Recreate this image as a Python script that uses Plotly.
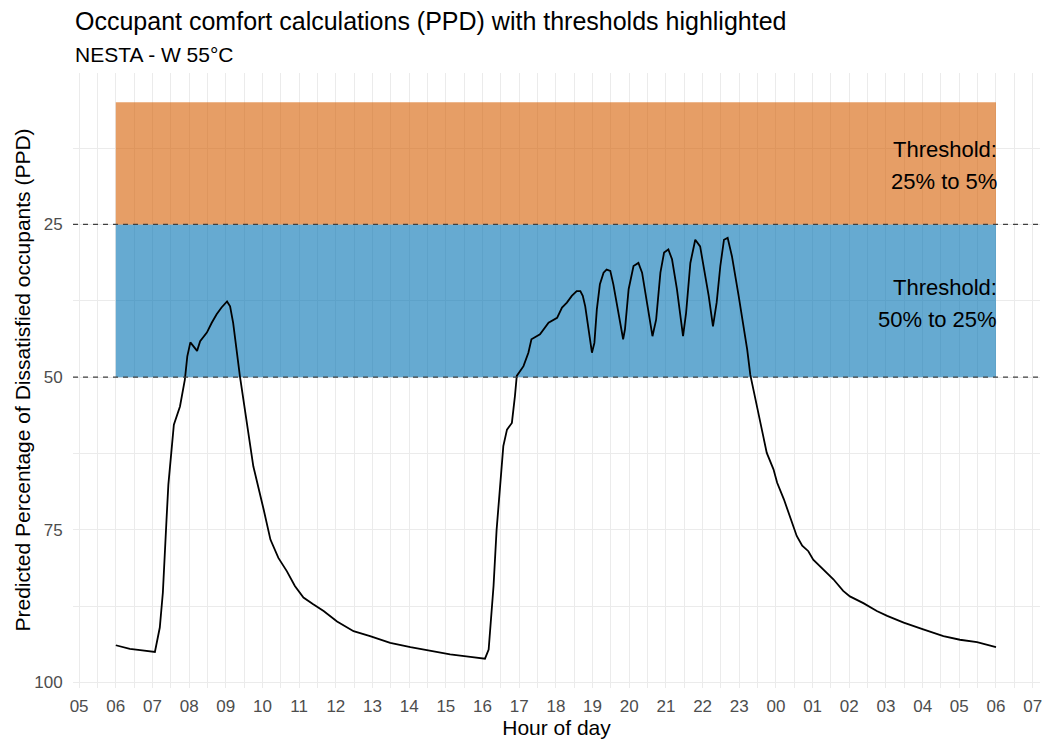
from datetime import datetime, timedelta

import plotly.graph_objects as go

# PPD readings (HH:MM from 06:00 to 06:00 next day)
times = [
    "06:00", "06:23", "06:40", "07:04", "07:12", "07:17", "07:23", "07:26",
    "07:35", "07:40", "07:45", "07:53", "07:57", "08:02", "08:13", "08:18",
    "08:29", "08:37", "08:45", "08:53", "09:02", "09:07", "09:12", "09:23",
    "09:34", "09:45", "10:02", "10:13", "10:26", "10:40", "10:53", "11:07",
    "11:23", "11:40", "12:02", "12:29", "12:56", "13:29", "14:02", "14:34",
    "15:07", "15:40", "16:04", "16:10", "16:15", "16:18", "16:23", "16:29",
    "16:34", "16:40", "16:48", "16:53", "16:56", "17:07", "17:15", "17:20",
    "17:34", "17:48", "18:02", "18:10", "18:18", "18:26", "18:34", "18:40",
    "18:44", "18:48", "18:53", "18:59", "19:03", "19:07", "19:12", "19:18",
    "19:23", "19:29", "19:34", "19:42", "19:50", "19:53", "19:59", "20:07",
    "20:15", "20:21", "20:29", "20:38", "20:44", "20:51", "20:57", "21:04",
    "21:10", "21:18", "21:28", "21:33", "21:40", "21:48", "21:56", "22:01",
    "22:10", "22:17", "22:23", "22:29", "22:35", "22:41", "22:48", "22:59",
    "23:13", "23:18", "23:34", "23:45", "23:56", "00:02", "00:13", "00:26",
    "00:34", "00:43", "00:53", "01:01", "01:18", "01:34", "01:50", "02:01",
    "02:23", "02:45", "03:02", "03:29", "04:01", "04:34", "05:01", "05:29",
    "06:00",
]
ppd = [
    93.9, 94.5, 94.7, 95.0, 91.0, 85.3, 73.3, 67.6,
    57.8, 56.3, 54.8, 50.4, 46.6, 44.3, 45.7, 44.1,
    42.7, 41.1, 39.7, 38.6, 37.6, 38.4, 41.1, 49.8,
    57.5, 64.6, 71.7, 76.6, 79.6, 81.8, 84.2, 86.1,
    87.2, 88.3, 90.0, 91.6, 92.4, 93.5, 94.2, 94.8,
    95.4, 95.8, 96.1, 94.6, 87.5, 84.2, 75.0, 67.9,
    61.3, 58.6, 57.5, 53.1, 49.8, 48.2, 46.0, 43.8,
    43.0, 41.1, 40.3, 38.6, 37.8, 36.7, 35.9, 35.9,
    36.7, 38.4, 41.7, 46.0, 44.4, 38.9, 34.8, 32.9,
    32.4, 32.6, 34.8, 39.2, 43.8, 42.2, 35.6, 31.8,
    31.3, 32.9, 37.8, 43.3, 40.6, 32.9, 29.6, 29.1,
    30.7, 35.6, 43.3, 39.5, 31.3, 27.5, 28.6, 31.3,
    36.7, 41.7, 37.8, 31.8, 27.5, 27.2, 30.2, 36.7,
    45.5, 49.6, 57.5, 62.4, 65.1, 67.3, 70.0, 73.8,
    76.0, 77.6, 78.5, 79.9, 81.5, 83.1, 85.0, 85.9,
    87.0, 88.3, 89.1, 90.2, 91.3, 92.4, 93.0, 93.4,
    94.2,
]

# threshold bands (lower PPD edge, upper PPD edge)
band_limits = [(25, 50), (5, 25)]
band_colors = ["rgba(0,114,178,0.6)", "rgba(213,94,0,0.6)"]
band_labels = [["Threshold:", "50% to 25%"], ["Threshold:", "25% to 5%"]]
band_label_y = [37.5, 15]
dashed_levels = [25, 50]
tick_vals = [25, 50, 75, 100]
minor_vals = [12.5, 37.5, 62.5, 87.5]

FONT = "Liberation Sans, Arial, sans-serif"


def to_datetimes(hhmm_list):
    # times roll over midnight, so bump the day whenever the clock goes back
    day = datetime(2023, 1, 1)
    out = []
    last = None
    for s in hhmm_list:
        t = datetime.strptime(s, "%H:%M").time()
        if last is not None and t < last:
            day += timedelta(days=1)
        out.append(datetime.combine(day.date(), t))
        last = t
    return out


x = to_datetimes(times)
x_start, x_end = x[0], x[-1]

fig = go.Figure()

for (lo, hi), color in zip(band_limits, band_colors):
    fig.add_trace(
        go.Scatter(
            x=[x_start, x_end, x_end, x_start, x_start],
            y=[lo, lo, hi, hi, lo],
            fill="toself",
            fillcolor=color,
            mode="lines",
            line=dict(width=0),
            hoverinfo="skip",
            showlegend=False,
        )
    )

fig.add_trace(
    go.Scatter(
        x=x,
        y=ppd,
        mode="lines",
        line=dict(color="black", width=1.8),
        showlegend=False,
    )
)

for level in dashed_levels:
    fig.add_shape(
        type="line",
        xref="paper",
        x0=0,
        x1=1,
        yref="y",
        y0=level,
        y1=level,
        line=dict(color="#404040", width=1.2, dash="5px,5px"),
    )

annotations = []
for lines, yv in zip(band_labels, band_label_y):
    for i, txt in enumerate(lines):
        annotations.append(
            dict(
                x=x_end,
                y=yv,
                xref="x",
                yref="y",
                text=txt,
                showarrow=False,
                xanchor="right",
                yanchor="middle",
                xshift=3,
                yshift=13.5 if i == 0 else -18.5,
                font=dict(size=22, color="black", family=FONT),
            )
        )

annotations.append(
    dict(
        text="Occupant comfort calculations (PPD) with thresholds highlighted",
        xref="paper",
        yref="paper",
        x=0,
        y=1.085,
        xanchor="left",
        yanchor="middle",
        showarrow=False,
        font=dict(size=25, color="black", family=FONT),
    )
)
annotations.append(
    dict(
        text="NESTA - W 55°C",
        xref="paper",
        yref="paper",
        x=0,
        y=1.03,
        xanchor="left",
        yanchor="middle",
        showarrow=False,
        font=dict(size=21, color="black", family=FONT),
    )
)
annotations.append(
    dict(
        text="Predicted Percentage of Dissatisfied occupants (PPD)",
        xref="paper",
        yref="paper",
        x=0,
        y=0.5,
        xshift=-51,
        textangle=-90,
        xanchor="center",
        yanchor="middle",
        showarrow=False,
        font=dict(size=21, color="black", family=FONT),
    )
)

fig.update_layout(
    width=1050,
    height=750,
    margin=dict(l=73, r=10, t=73, b=62, autoexpand=False),
    plot_bgcolor="white",
    paper_bgcolor="white",
    font=dict(family=FONT, color="black"),
    annotations=annotations,
    showlegend=False,
)

fig.update_xaxes(
    type="date",
    range=[datetime(2023, 1, 1, 4, 50), datetime(2023, 1, 2, 7, 12)],
    dtick=3600000,
    tick0=datetime(2023, 1, 1, 5, 0),
    tickformat="%H",
    tickfont=dict(size=17, color="#4D4D4D"),
    ticks="outside",
    ticklen=3,
    tickcolor="rgba(0,0,0,0)",
    showgrid=True,
    gridcolor="#EBEBEB",
    gridwidth=1.3,
    zeroline=False,
    showline=False,
    minor=dict(dtick=1800000, showgrid=True, gridcolor="#EBEBEB", gridwidth=0.7),
    title=dict(text="Hour of day", font=dict(size=21, color="black"), standoff=4),
)

fig.update_yaxes(
    range=[100.9, 0.2],
    tickvals=tick_vals,
    tickfont=dict(size=17, color="#4D4D4D"),
    ticks="outside",
    ticklen=6,
    tickcolor="rgba(0,0,0,0)",
    showgrid=True,
    gridcolor="#EBEBEB",
    gridwidth=1.3,
    zeroline=False,
    showline=False,
    minor=dict(tickvals=minor_vals, showgrid=True, gridcolor="#EBEBEB", gridwidth=0.7),
)

fig.write_html(
    "out.html",
    config={"displayModeBar": False},
    post_script="document.body.style.margin='0';",
)
